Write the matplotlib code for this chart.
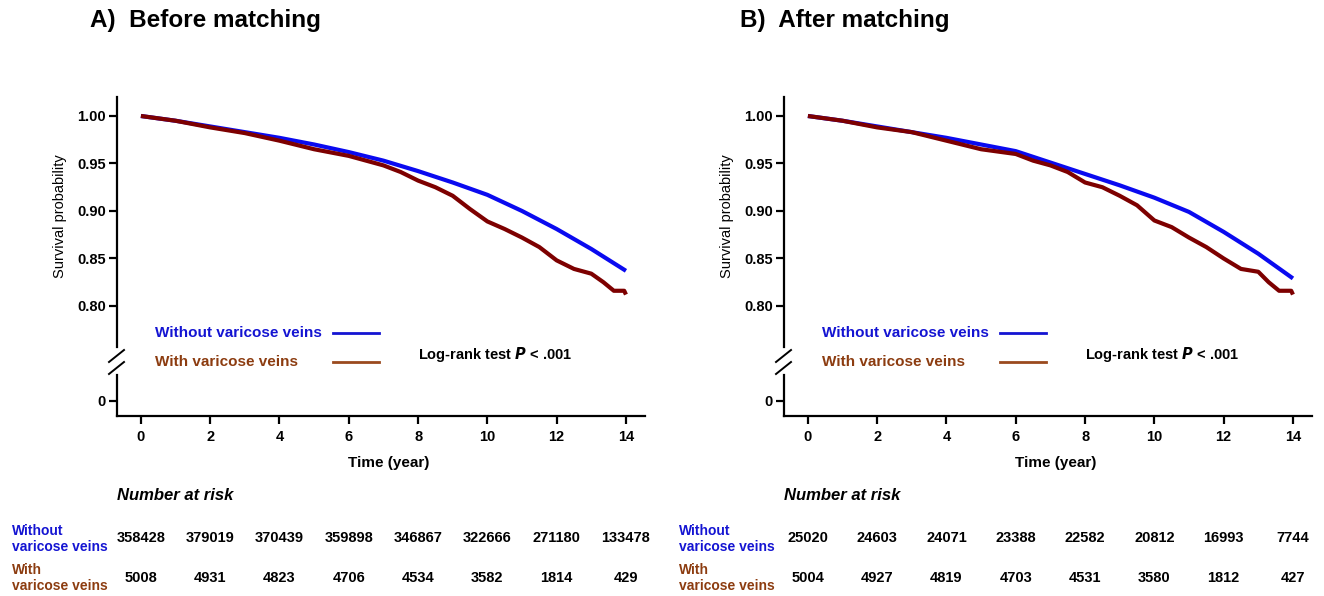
import matplotlib.pyplot as plt
from matplotlib.lines import Line2D

plt.rcParams['font.family'] = ['Liberation Sans', 'DejaVu Sans']

W, H = 1324, 596

# survival curves
years = [0, 1, 2, 3, 4, 5, 6, 7, 8, 9, 10, 11, 12, 13, 14]

a_without = [1.000, 0.995, 0.989, 0.983, 0.977, 0.970, 0.962, 0.953, 0.942, 0.930,
             0.917, 0.900, 0.881, 0.860, 0.837]
a_with_t = [0, 1, 2, 3, 4, 5, 6, 6.5, 7, 7.5, 8, 8.5, 9, 9.5, 10, 10.5, 11, 11.5,
            12, 12.5, 13, 13.35, 13.65, 13.95, 14.0]
a_with = [1.000, 0.995, 0.988, 0.982, 0.974, 0.965, 0.958, 0.953, 0.948, 0.941,
          0.932, 0.925, 0.916, 0.902, 0.889, 0.881, 0.872, 0.862, 0.848, 0.839,
          0.834, 0.825, 0.816, 0.816, 0.812]

b_without = [1.000, 0.995, 0.989, 0.983, 0.977, 0.970, 0.963, 0.951, 0.939, 0.927,
             0.914, 0.899, 0.878, 0.855, 0.829]
b_with_t = [0, 1, 2, 3, 4, 5, 6, 6.5, 7, 7.5, 8, 8.5, 9, 9.5, 10, 10.5, 11, 11.5,
            12, 12.5, 13, 13.3, 13.6, 13.95, 14.0]
b_with = [1.000, 0.995, 0.988, 0.983, 0.974, 0.965, 0.960, 0.953, 0.948, 0.941,
          0.930, 0.925, 0.916, 0.906, 0.890, 0.883, 0.872, 0.862, 0.850, 0.839,
          0.836, 0.825, 0.816, 0.816, 0.812]

# number at risk
risk_times = [0, 2, 4, 6, 8, 10, 12, 14]
a_risk_without = [358428, 379019, 370439, 359898, 346867, 322666, 271180, 133478]
a_risk_with = [5008, 4931, 4823, 4706, 4534, 3582, 1814, 429]
b_risk_without = [25020, 24603, 24071, 23388, 22582, 20812, 16993, 7744]
b_risk_with = [5004, 4927, 4819, 4703, 4531, 3580, 1812, 427]

BLUE = '#0a0af0'
BLUE_TXT = '#1414d2'
MAROON = '#7d0000'
BROWN_TXT = '#8c3c10'
BROWN_LINE = '#9a4a1e'


def fx(px):
    return px / W


def fy(py):
    return 1 - py / H


def draw_panel(fig, x0, title, title_x, t_without, s_without, t_with, s_with,
               risk_without, risk_with):
    """Draw one broken-axis KM panel; x0 is the pixel position of the y spine."""
    width = 528
    xlim = (-0.69, 14.55)

    top = fig.add_axes([fx(x0), fy(347), width / W, 250 / H])
    bot = fig.add_axes([fx(x0), fy(416), width / W, 41 / H])

    top.plot(t_without, s_without, color=BLUE, lw=3, solid_capstyle='butt')
    top.plot(t_with, s_with, color=MAROON, lw=3, solid_capstyle='butt')
    top.set_xlim(*xlim)
    top.set_ylim(0.7568, 1.020)
    top.set_yticks([0.80, 0.85, 0.90, 0.95, 1.00])
    top.set_yticklabels(['0.80', '0.85', '0.90', '0.95', '1.00'])
    top.set_xticks([])
    for s in ['top', 'right', 'bottom']:
        top.spines[s].set_visible(False)

    bot.set_xlim(*xlim)
    bot.set_ylim(-15, 26)
    bot.set_yticks([0])
    bot.set_xticks(risk_times)
    for s in ['top', 'right']:
        bot.spines[s].set_visible(False)

    for ax in (top, bot):
        for s in ['left', 'bottom']:
            ax.spines[s].set_linewidth(1.6)
        ax.tick_params(width=1.6, length=6, labelsize=10.5, pad=2)
        ax.tick_params(axis='x', pad=4)
        for lab in ax.get_xticklabels() + ax.get_yticklabels():
            lab.set_fontweight('bold')
        ax.patch.set_alpha(0)

    # break marks on the y axis
    for yc in (356, 368):
        fig.add_artist(Line2D([fx(x0 - 8), fx(x0 + 7)], [fy(yc + 6), fy(yc - 6)],
                              color='black', lw=1.4))

    fig.text(fx(title_x), fy(20), title, fontsize=17.5, fontweight='bold',
             ha='left', va='center')
    fig.text(fx(x0 - 57), fy(216), 'Survival probability', rotation=90,
             fontsize=10.5, fontweight='medium', ha='center', va='center')
    fig.text(fx(x0 + 272), fy(463), 'Time (year)', fontsize=11,
             fontweight='bold', ha='center', va='center')

    # legend
    fig.text(fx(x0 + 38), fy(333), 'Without varicose veins', color=BLUE_TXT,
             fontsize=11, fontweight='bold', ha='left', va='center')
    fig.text(fx(x0 + 38), fy(362), 'With varicose veins', color=BROWN_TXT,
             fontsize=11, fontweight='bold', ha='left', va='center')
    fig.add_artist(Line2D([fx(x0 + 216), fx(x0 + 262)], [fy(333), fy(333)],
                          color=BLUE_TXT, lw=2))
    fig.add_artist(Line2D([fx(x0 + 216), fx(x0 + 262)], [fy(362), fy(362)],
                          color=BROWN_LINE, lw=2))
    fig.text(fx(x0 + 301), fy(355), 'Log-rank test $\\bfit{P}$ < .001',
             fontsize=10.5, fontweight='bold', ha='left', va='center')

    # number at risk table
    fig.text(fx(x0), fy(495), 'Number at risk', fontsize=12,
             fontweight='bold', style='italic', ha='left', va='center')
    fig.text(fx(x0 - 105), fy(539), 'Without\nvaricose veins', color=BLUE_TXT,
             fontsize=10, fontweight='bold', ha='left', va='center',
             linespacing=1.15)
    fig.text(fx(x0 - 105), fy(578), 'With\nvaricose veins', color=BROWN_TXT,
             fontsize=10, fontweight='bold', ha='left', va='center',
             linespacing=1.15)
    inv = fig.transFigure.inverted()
    for t, n1, n2 in zip(risk_times, risk_without, risk_with):
        xf = inv.transform(bot.transData.transform((t, 0)))[0]
        fig.text(xf, fy(538), str(n1), fontsize=10.5, fontweight='bold',
                 ha='center', va='center')
        fig.text(xf, fy(578), str(n2), fontsize=10.5, fontweight='bold',
                 ha='center', va='center')


fig = plt.figure(figsize=(W / 100, H / 100), dpi=100)

draw_panel(fig, 117, 'A)  Before matching', 90, years, a_without,
           a_with_t, a_with, a_risk_without, a_risk_with)
draw_panel(fig, 784, 'B)  After matching', 740, years, b_without,
           b_with_t, b_with, b_risk_without, b_risk_with)

fig.savefig('out.png', dpi=100)
